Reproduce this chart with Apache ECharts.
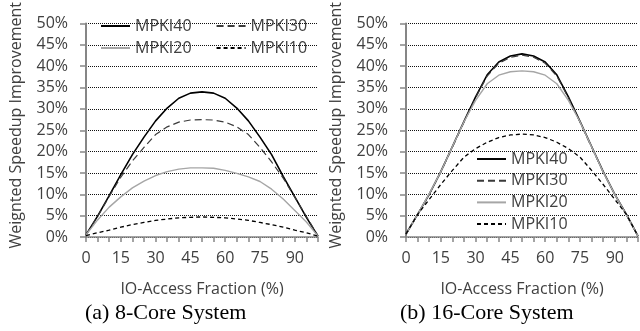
<!DOCTYPE html>
<html>
<head>
<meta charset="utf-8">
<script src="https://cdn.jsdelivr.net/npm/echarts@6/dist/echarts.min.js"></script>
<style>
  html, body { margin: 0; padding: 0; background: #fff; }
  #main { width: 640px; height: 331px; }
</style>
</head>
<body>
<div id="main"></div>
<script>
// IO-access fraction (%) on the x axis
const xCategories = ['0', '5', '10', '15', '20', '25', '30', '35', '40', '45', '50',
  '55', '60', '65', '70', '75', '80', '85', '90', '95', '100'];
const seriesNames = ['MPKI40', 'MPKI30', 'MPKI20', 'MPKI10'];

// (a) 8-core system, weighted speedup improvement in %
const core8Mpki40 = [0.5, 4.9, 9.7, 14.6, 19.3, 23.4, 27.2, 30.2, 32.5, 33.7, 34.0, 33.7, 32.5, 30.2, 27.2, 23.4, 19.3, 14.2, 9.4, 4.6, 0.2];
const core8Mpki30 = [0.5, 4.8, 9.5, 14.0, 17.8, 21.0, 24.0, 25.8, 26.9, 27.4, 27.5, 27.4, 26.9, 25.8, 24.0, 21.0, 17.6, 13.8, 9.3, 4.8, 0.2];
const core8Mpki20 = [0.5, 4.0, 7.0, 9.4, 11.5, 13.1, 14.4, 15.3, 15.9, 16.2, 16.2, 16.1, 15.6, 14.9, 14.1, 13.0, 11.2, 8.9, 6.2, 3.5, 0.2];
const core8Mpki10 = [0.3, 1.0, 1.6, 2.3, 2.9, 3.4, 3.9, 4.2, 4.5, 4.6, 4.7, 4.6, 4.5, 4.2, 3.9, 3.4, 2.9, 2.3, 1.6, 1.0, 0.2];

// (b) 16-core system
const core16Mpki40 = [0.7, 5.3, 10.0, 15.3, 21.2, 27.1, 32.8, 38.0, 41.0, 42.4, 42.9, 42.4, 41.0, 38.0, 32.8, 27.1, 21.2, 15.3, 10.0, 5.3, 0.2];
const core16Mpki30 = [0.7, 5.2, 10.0, 15.2, 21.0, 26.9, 32.6, 37.7, 40.7, 42.1, 42.6, 42.1, 40.7, 37.7, 32.6, 26.9, 21.0, 15.2, 10.0, 5.2, 0.2];
const core16Mpki20 = [0.7, 5.3, 10.1, 15.3, 21.2, 27.0, 32.0, 35.9, 37.9, 38.7, 38.9, 38.7, 37.9, 35.9, 32.0, 27.0, 21.1, 15.2, 10.0, 5.2, 0.2];
const core16Mpki10 = [0.7, 5.3, 8.8, 12.3, 15.6, 18.7, 20.7, 22.2, 23.3, 23.9, 24.1, 23.9, 23.3, 22.2, 20.7, 18.7, 15.6, 12.3, 8.8, 5.3, 0.2];

const yTicks = { min: 0, max: 50, interval: 5 };
const captions = ['(a) 8-Core System', '(b) 16-Core System'];
const xTitle = 'IO-Access Fraction (%)';
const yTitle = 'Weignted Speedup Improvement';

const textColor = '#404040';
const font = "'Open Sans', 'DejaVu Sans', sans-serif";

const lineStyles = {
  MPKI40: { color: '#000000', width: 1.6, type: 'solid' },
  MPKI30: { color: '#3a3a3a', width: 1.2, type: [7, 4] },
  MPKI20: { color: '#a6a6a6', width: 1.4, type: 'solid' },
  MPKI10: { color: '#000000', width: 1.3, type: [4, 3] }
};

function makeXAxis(gridIndex) {
  return {
    type: 'category',
    gridIndex: gridIndex,
    data: xCategories,
    boundaryGap: false,
    name: xTitle,
    nameLocation: 'middle',
    nameGap: 44,
    nameTextStyle: { color: textColor, fontSize: 16, fontFamily: font },
    axisLine: { lineStyle: { color: '#868686', width: 1.5 } },
    axisTick: { interval: 0, length: 5, lineStyle: { color: '#868686', width: 1.5 } },
    axisLabel: { interval: 2, margin: 13, color: textColor, fontSize: 16, fontFamily: font },
    splitLine: { show: false }
  };
}

function makeYAxis(gridIndex) {
  return {
    type: 'value',
    gridIndex: gridIndex,
    min: yTicks.min,
    max: yTicks.max,
    interval: yTicks.interval,
    name: yTitle,
    nameLocation: 'middle',
    nameGap: 62,
    nameTextStyle: { color: textColor, fontSize: 16, fontFamily: font, padding: [0, 0, 0, 10] },
    axisLine: { show: true, lineStyle: { color: '#868686', width: 2 } },
    axisTick: { show: true, length: 6, lineStyle: { color: '#868686', width: 1.5 } },
    axisLabel: { formatter: '{value}%', margin: 18, color: textColor, fontSize: 16, fontFamily: font },
    splitLine: { show: true, lineStyle: { color: '#111', width: 1, type: [1, 1] } }
  };
}

function makeSeries(name, data, gridIndex) {
  return {
    name: name,
    type: 'line',
    xAxisIndex: gridIndex,
    yAxisIndex: gridIndex,
    data: data,
    symbol: 'none',
    smooth: false,
    lineStyle: lineStyles[name],
    itemStyle: { color: lineStyles[name].color },
    emphasis: { disabled: true }
  };
}

const legendText = { color: textColor, fontSize: 16, fontFamily: font };
// hide the marker that line legends draw in the middle of the icon
const legendMarker = { opacity: 0 };

let myChart = echarts.init(document.getElementById('main'), null, { renderer: 'canvas' });

let option = {
  animation: false,
  backgroundColor: '#ffffff',
  grid: [
    { left: 86, top: 15, width: 232, height: 222 },
    { left: 406, top: 15, width: 232, height: 222 }
  ],
  legend: [
    {
      data: ['MPKI40', 'MPKI30'], left: 100, top: 18, padding: 0,
      itemWidth: 29, itemHeight: 14, itemGap: 24, textStyle: legendText, itemStyle: legendMarker
    },
    {
      data: ['MPKI20', 'MPKI10'], left: 100, top: 40, padding: 0,
      itemWidth: 29, itemHeight: 14, itemGap: 24, textStyle: legendText, itemStyle: legendMarker
    },
    {
      data: seriesNames, orient: 'vertical', left: 476, top: 151, padding: 0,
      itemWidth: 29, itemHeight: 14, itemGap: 5.7, textStyle: legendText, itemStyle: legendMarker
    }
  ],
  xAxis: [makeXAxis(0), makeXAxis(1)],
  yAxis: [makeYAxis(0), makeYAxis(1)],
  series: [
    makeSeries('MPKI40', core8Mpki40, 0),
    makeSeries('MPKI30', core8Mpki30, 0),
    makeSeries('MPKI20', core8Mpki20, 0),
    makeSeries('MPKI10', core8Mpki10, 0),
    makeSeries('MPKI40', core16Mpki40, 1),
    makeSeries('MPKI30', core16Mpki30, 1),
    makeSeries('MPKI20', core16Mpki20, 1),
    makeSeries('MPKI10', core16Mpki10, 1)
  ],
  graphic: [
    {
      type: 'text', left: 85, top: 302,
      style: { text: captions[0], fill: '#000', font: "22px 'Liberation Serif', 'Times New Roman', serif" }
    },
    {
      type: 'text', left: 400, top: 302,
      style: { text: captions[1], fill: '#000', font: "22px 'Liberation Serif', 'Times New Roman', serif" }
    }
  ]
};

myChart.setOption(option);
</script>
</body>
</html>
